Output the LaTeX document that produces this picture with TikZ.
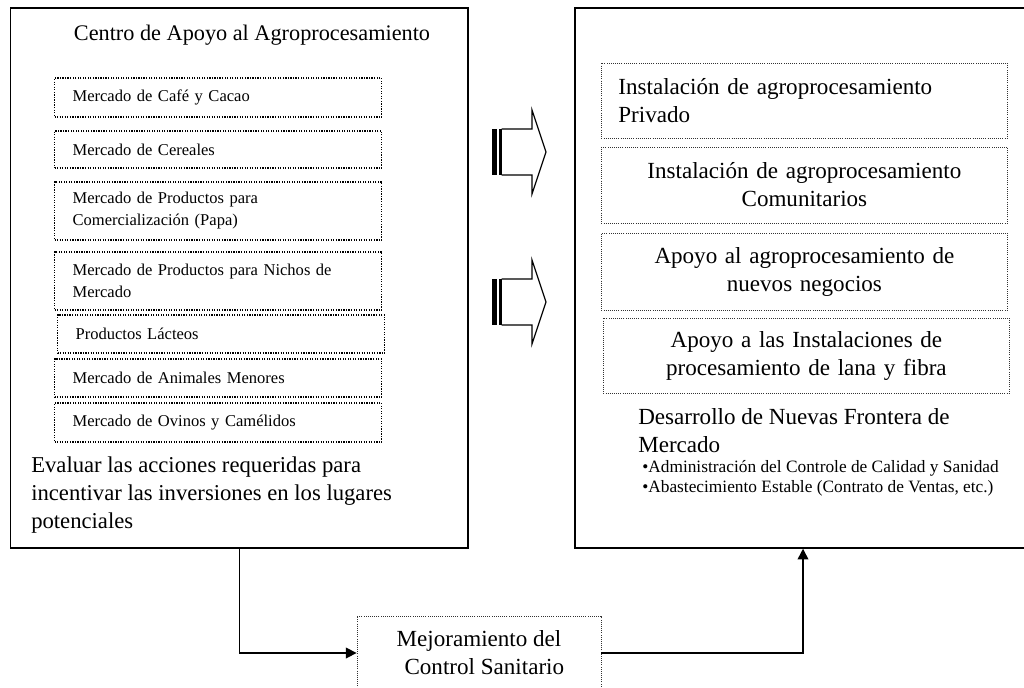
\documentclass[tikz,border=0pt]{standalone}
\usepackage{fontspec}
\setmainfont{Liberation Serif}
\usetikzlibrary{arrows.meta}
\newcommand{\grande}{\fontsize{17.3}{21}\selectfont}
\newcommand{\chico}{\fontsize{12.4}{16.5}\selectfont}
\newcommand{\vinetas}{\fontsize{13}{15}\selectfont}

\begin{document}
\begin{tikzpicture}[x=0.75pt, y=-0.75pt,
  marco/.style={draw, line width=1.1pt, inner sep=0pt},
  mercado/.style={draw, densely dotted, line width=0.9pt, anchor=west, inner xsep=13.5pt, inner ysep=0pt, text width=218.25pt, align=left, font=\chico},
  instal/.style={draw=black!80, densely dotted, line width=0.6pt, anchor=west, inner xsep=12.75pt, inner ysep=0pt, text width=279pt, minimum height=56.25pt, font=\grande},
  libre/.style={anchor=west, align=left, inner sep=0pt},
  flecha/.style={line width=1.1pt, ->, >={Triangle[length=8pt,width=8pt]}}]
\useasboundingbox (0,0) rectangle (1024,688);

% los dos marcos grandes
\node[marco, minimum width=343.1pt, minimum height=405pt] (centro) at (239.25,278) {};
\node[marco, minimum width=342pt, minimum height=405pt] (apoyo) at (803,278) {};

\node[font=\fontsize{16.7}{21}\selectfont] (titulo) at (252,35) {Centro de Apoyo al Agroprocesamiento};
\foreach \i/\xl/\yc/\h/\txt in {1/54/97.5/29.25/{Mercado de Café y Cacao},
  2/54/149.5/27.75/{Mercado de Cereales},
  3/54/211/43.5/{Mercado de Productos para\\Comercialización (Papa)},
  4/54/281/43.5/{Mercado de Productos para Nichos de\\Mercado},
  5/57/334/28.5/{Productos Lácteos},
  6/54/378/28.5/{Mercado de Animales Menores},
  7/54/422.5/29.25/{Mercado de Ovinos y Camélidos}}
 \node[mercado, minimum height=\h pt] (m\i) at (\xl,\yc) {\txt};
\node[libre, font=\fontsize{17}{21}\selectfont] (evaluar) at (31,495) {Evaluar las acciones requeridas para\\incentivar las inversiones en los lugares\\potenciales};

% lado derecho
\node[instal, align=left] (privado) at (601,100.5) {Instalación de agroprocesamiento\\Privado};
\node[instal, align=center, minimum height=57pt] (comunit) at (601,185) {Instalación de agroprocesamiento\\Comunitarios};
\node[instal, align=center, minimum height=57.75pt] (negocios) at (601,271.5) {Apoyo al agroprocesamiento de\\nuevos negocios};
\node[instal, align=center] (lana) at (603,355.5) {Apoyo a las Instalaciones de\\procesamiento de lana y fibra};
\node[libre, font=\grande] (frontera) at (638,431) {Desarrollo de Nuevas Frontera de\\Mercado};
\node[libre, font=\vinetas] (calidad) at (642,478) {•Administración del Controle de Calidad y Sanidad\\•Abastecimiento Estable (Contrato de Ventas, etc.)};

% flechas de bloque
\foreach \yc in {152,302} {
 \fill (492,\yc-23) rectangle (497,\yc+23);
 \fill (499,\yc-23) rectangle (501.5,\yc+23);
 \draw[line width=0.9pt] (501.5,\yc-23) -- (532,\yc-23) -- (532,\yc-42) -- (546,\yc) -- (532,\yc+42) -- (532,\yc+23) -- (501.5,\yc+23);
}

% abajo
\node[draw=black!80, densely dotted, line width=0.6pt, minimum width=183pt, minimum height=55.5pt, font=\grande, align=center] (sanitario) at (479,653) {Mejoramiento del\\\hspace*{8pt}Control Sanitario};
\draw[flecha] (centro.south) |- (sanitario.west);
\draw[flecha] (sanitario.east) -| (apoyo.south);
\end{tikzpicture}
\end{document}
